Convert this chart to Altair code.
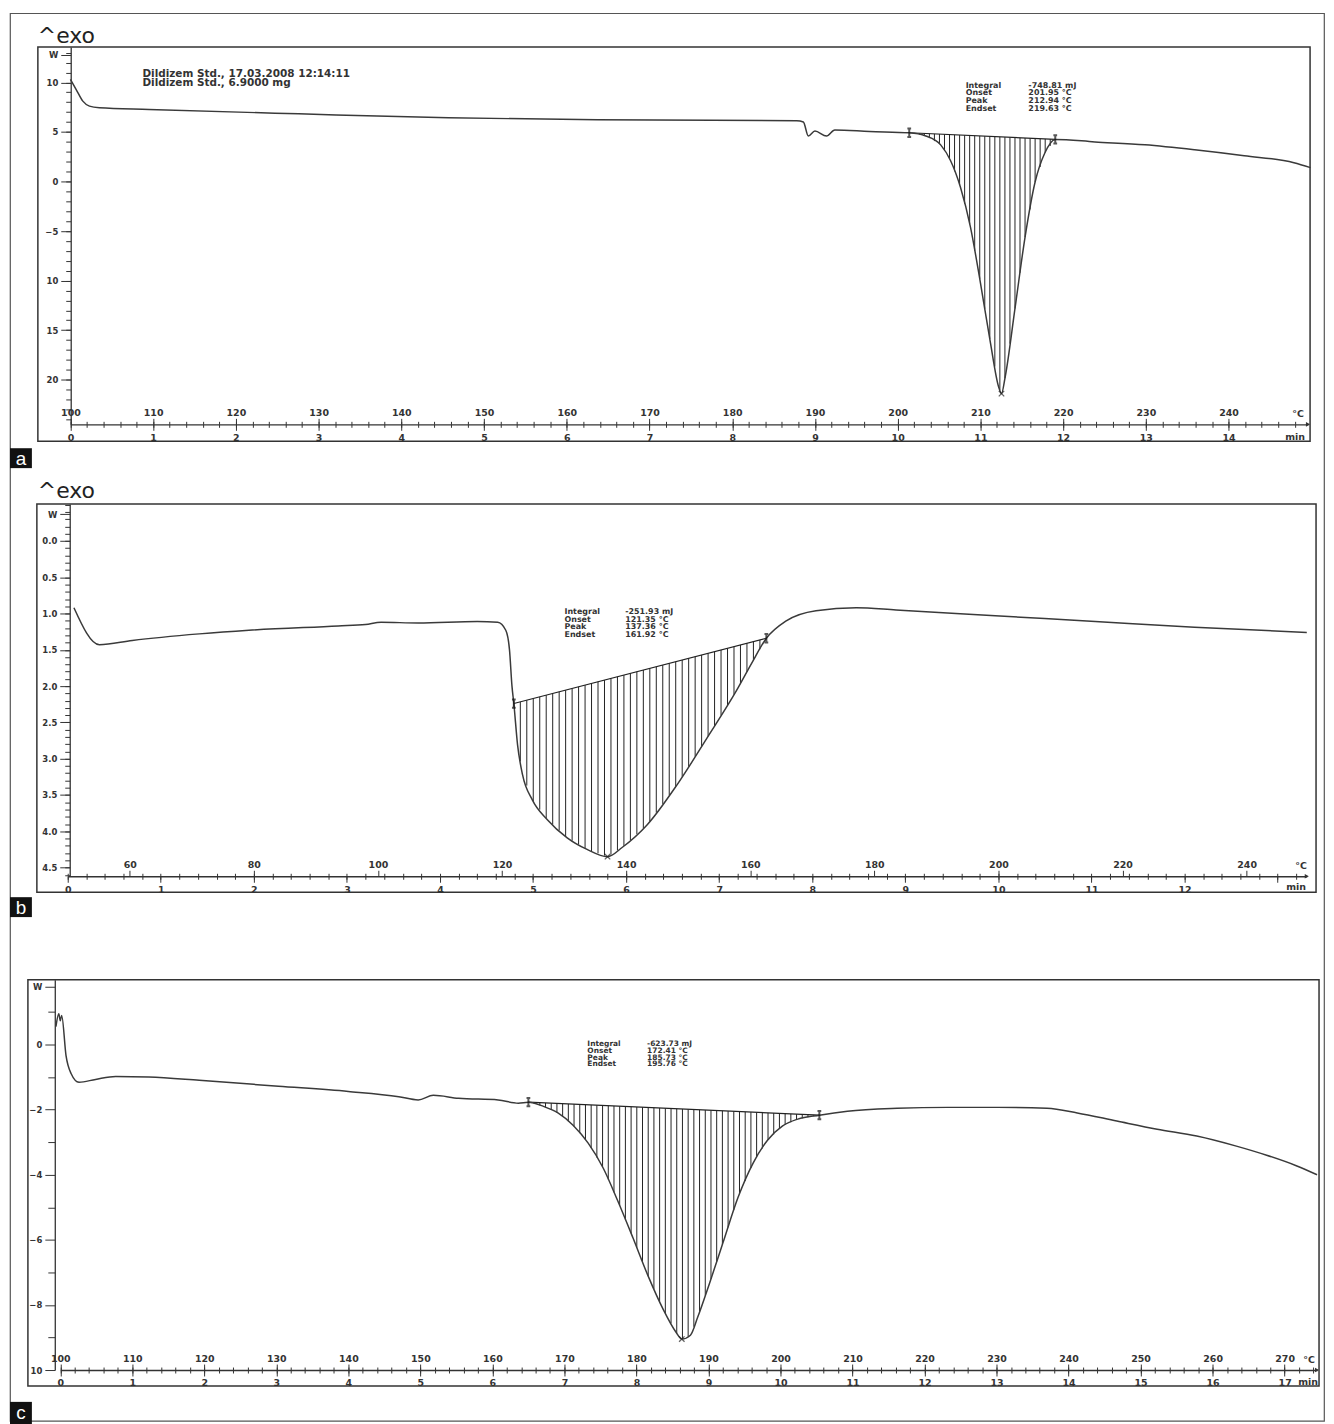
import altair as alt
import numpy as np
import pandas as pd

# ---------------- panel a : heat flow (mW) vs temperature (°C) ----------------
a_temp = [100.0, 100.7, 101.5, 102.3, 103.5, 109.5, 127.6, 145.7, 163.7, 187.8,
          188.6, 189.2, 190.0, 191.4, 192.4, 196.6, 201.4, 203.4, 205.2, 206.4,
          207.6, 208.8, 210.0, 211.2, 212.2, 212.55, 213.0, 214.2, 215.4, 216.6,
          217.8, 219.05, 223.85, 229.9, 235.9, 241.9, 247.9, 249.9]
a_flow = [10.3, 9.28, 8.11, 7.61, 7.44, 7.27, 6.83, 6.43, 6.23, 6.13,
          6.0, 4.59, 5.1, 4.59, 5.2, 5.05, 4.92, 4.6, 3.7, 2.1,
          -0.6, -4.6, -10.2, -16.2, -20.7, -21.4, -19.7, -12.7, -5.6, -0.1,
          2.9, 4.25, 4.0, 3.7, 3.2, 2.6, 1.9, 1.4]
a_onset = [201.4, 4.92]
a_endset = [219.05, 4.25]
a_peak = [212.55, -21.4]
a_temp_ticks = [100, 110, 120, 130, 140, 150, 160, 170, 180, 190, 200, 210, 220, 230, 240]
a_y_major = [10, 5, 0, -5, -10, -15, -20]
a_y_minor = list(range(-24, 14))
a_info_names = ["Integral", "Onset", "Peak", "Endset"]
a_info_vals = ["-748.81 mJ", "201.95 °C", "212.94 °C", "219.63 °C"]
a_header = ["Dildizem Std., 17.03.2008 12:14:11", "Dildizem Std., 6.9000 mg"]

# ---------------- panel b ----------------
b_temp = [51.0, 55.1, 60.4, 71.2, 79.2, 93.6, 98.0, 100.5, 106.5, 116.0,
          119.3, 120.6, 121.2, 121.6, 121.9, 122.5, 123.3, 124.9, 127.3, 130.5,
          133.7, 137.0, 139.4, 143.4, 148.2, 153.0, 157.8, 160.2, 162.6, 165.8,
          170.6, 177.1, 183.5, 199.5, 215.6, 231.6, 249.7]
b_flow = [0.92, 1.43, 1.37, 1.28, 1.23, 1.17, 1.15, 1.12, 1.13, 1.11,
          1.12, 1.23, 1.5, 2.0, 2.24, 2.81, 3.22, 3.57, 3.84, 4.09,
          4.25, 4.35, 4.22, 3.91, 3.36, 2.72, 2.06, 1.69, 1.34, 1.10,
          0.96, 0.92, 0.95, 1.03, 1.11, 1.19, 1.26]
b_onset = [121.9, 2.24]
b_endset = [162.6, 1.34]
b_peak = [137.0, 4.35]
b_temp_ticks = [60, 80, 100, 120, 140, 160, 180, 200, 220, 240]
b_y_major = [0.0, 0.5, 1.0, 1.5, 2.0, 2.5, 3.0, 3.5, 4.0, 4.5]
b_y_minor = [round(v, 1) for v in np.arange(-0.5, 4.61, 0.1)]
b_info_names = ["Integral", "Onset", "Peak", "Endset"]
b_info_vals = ["-251.93 mJ", "121.35 °C", "137.36 °C", "161.92 °C"]

# ---------------- panel c ----------------
c_temp = [99.4, 99.8, 100.0, 100.2, 100.8, 101.5, 102.6, 104.9, 107.7, 112.3,
          119.3, 130.3, 140.0, 147.0, 149.7, 151.8, 155.3, 160.8, 163.6, 165.0,
          167.1, 169.1, 171.2, 173.3, 175.4, 177.4, 179.5, 181.6, 183.7, 185.5,
          186.3, 187.5, 188.5, 190.2, 192.0, 194.1, 196.2, 198.2, 200.3, 202.4,
          205.4, 209.3, 216.2, 223.2, 230.1, 237.0, 241.2, 246.7, 252.3, 257.8,
          263.3, 267.5, 271.7, 274.5]
c_flow = [0.55, 0.95, 0.73, 0.89, -0.34, -0.89, -1.16, -1.07, -0.98, -1.0,
          -1.1, -1.28, -1.44, -1.6, -1.7, -1.56, -1.65, -1.7, -1.8, -1.77,
          -1.9, -2.1, -2.48, -3.03, -3.8, -4.8, -5.93, -7.1, -8.13, -8.84,
          -9.05, -8.93, -8.38, -7.3, -6.1, -4.7, -3.64, -2.94, -2.5, -2.29,
          -2.17, -2.05, -1.96, -1.93, -1.93, -1.96, -2.1, -2.35, -2.6, -2.81,
          -3.12, -3.4, -3.73, -4.0]
c_onset = [165.0, -1.77]
c_endset = [205.4, -2.17]
c_peak = [186.3, -9.05]
c_temp_ticks = [100, 110, 120, 130, 140, 150, 160, 170, 180, 190, 200, 210, 220,
                230, 240, 250, 260, 270]
c_y_major = [0, -2, -4, -6, -8, -10]
c_y_minor = [1, -1, -3, -5, -7, -9]
c_info_names = ["Integral", "Onset", "Peak", "Endset"]
c_info_vals = ["-623.73 mJ", "172.41 °C", "185.73 °C", "195.76 °C"]

# ---------------- layout / style ----------------
FONT = "DejaVu Sans"
INK = "#333333"
W, H = 1320, 1414
ONE = pd.DataFrame({"k": [0]})

panels = [
    dict(T=a_temp, V=a_flow, on=a_onset, en=a_endset, pk=a_peak,
         temps=a_temp_ticks, ymaj=a_y_major + [12.8], ymin=a_y_minor,
         ylab="datum.value == 12.8 ? 'W' : format(abs(datum.value) >= 10 ? abs(datum.value) : datum.value, 'd')",
         xdom=[100, 249.6], xr=[60.7, 1303.9], ydom=[-24.5, 13.57], yr=[413, 34],
         axis_y=413, yaxis_x=61, axis_val=-24.5, frame=[28, 34, 1306, 430],
         T0=100, rate=10, last_min=14, nh=28, minor_tick=5,
         names=a_info_names, vals=a_info_vals,
         info_x=(960, 1023), info_y=69, info_lh=7.6, info_size=8,
         exo_y=30, box_y=(437, 457), letter_y=448, letter="a",
         degC=(1294, 403), minlab=(1291, 426)),
    dict(T=b_temp, V=b_flow, on=b_onset, en=b_endset, pk=b_peak,
         temps=b_temp_ticks, ymaj=b_y_major + [-0.37], ymin=b_y_minor,
         ylab="datum.value == -0.37 ? 'W' : format(datum.value, '.1f')",
         xdom=[50, 249.7], xr=[58, 1302.7], ydom=[-0.51, 4.62], yr=[493, 867],
         axis_y=867, yaxis_x=60, axis_val=4.62, frame=[27, 493, 1312, 883],
         T0=50, rate=15, last_min=12, nh=38, minor_tick=5,
         names=b_info_names, vals=b_info_vals,
         info_x=(557, 618), info_y=598, info_lh=7.5, info_size=8,
         exo_y=487, box_y=(888, 908), letter_y=899, letter="b",
         degC=(1297, 857), minlab=(1292, 878)),
    dict(T=c_temp, V=c_flow, on=c_onset, en=c_endset, pk=c_peak,
         temps=c_temp_ticks, ymaj=c_y_major + [1.77], ymin=c_y_minor,
         ylab="datum.value == 1.77 ? 'W' : format(abs(datum.value) >= 10 ? abs(datum.value) : datum.value, 'd')",
         xdom=[100, 274.5], xr=[50.5, 1313.0], ydom=[-10, 1.99], yr=[1363, 971],
         axis_y=1363, yaxis_x=45, axis_val=-10, frame=[18, 971, 1315, 1379],
         T0=100, rate=10, last_min=17, nh=50, minor_tick=7,
         names=c_info_names, vals=c_info_vals,
         info_x=(580, 640), info_y=1032, info_lh=6.7, info_size=7.5,
         exo_y=None, box_y=(1395, 1420), letter_y=1406, letter="c",
         degC=(1305, 1353), minlab=(1304, 1375)),
]
panels[0]["header"] = a_header


def txt(text, x, y, size=9, align="left", baseline="middle", color=INK,
        font=FONT, weight="bold", lh=None):
    kw = dict(align=align, baseline=baseline, fontSize=size, font=font,
              fontWeight=weight, color=color)
    if lh:
        kw["lineHeight"] = lh
    return alt.Chart(ONE).mark_text(**kw).encode(
        x=alt.value(x), y=alt.value(y), text=alt.value(text))


def minute_expr(T0, rate, last):
    m = f"((datum.value-{T0})/{rate})"
    return (f"(abs({m}-round({m})) < 0.01 && {m} < {last} + 0.5) ? "
            f"format(round({m}), 'd') : ''")


layers = []
for p in panels:
    xs = alt.Scale(domain=p["xdom"], range=p["xr"], nice=False, zero=False)
    ys = alt.Scale(domain=p["ydom"], range=p["yr"], nice=False, zero=False)
    ay, yx, T0, rate = p["axis_y"], p["yaxis_x"], p["T0"], p["rate"]
    nmax = (p["xdom"][1] - T0) / rate
    minute_T = [float(T0 + rate * m) for m in np.arange(0, nmax + 1e-9, 0.2)]
    int_T = [float(T0 + rate * m) for m in range(0, int(nmax) + 1)]

    # frame of the panel
    fr = p["frame"]
    layers.append(alt.Chart(ONE).mark_rect(fill="white", fillOpacity=0, stroke=INK,
                                          strokeWidth=1.5).encode(
        x=alt.value(fr[0]), x2=alt.value(fr[2]), y=alt.value(fr[1]), y2=alt.value(fr[3])))

    # hatching between the integration baseline and the curve
    on, en = p["on"], p["en"]
    th = np.linspace(on[0], en[0], p["nh"] + 2)[1:-1]
    base = on[1] + (th - on[0]) * (en[1] - on[1]) / (en[0] - on[0])
    cv = np.interp(th, p["T"], p["V"])
    hatch = pd.DataFrame({"T": th, "b": base, "c": cv})
    layers.append(alt.Chart(hatch).mark_rule(color="#222222", strokeWidth=1).encode(
        x=alt.X("T:Q", scale=xs, axis=alt.Axis(
            orient="bottom", offset=ay - H, values=minute_T,
            labelExpr=minute_expr(T0, rate, p["last_min"]), tickSize=3, domain=True,
            labelPadding=5, labelOverlap=False, labelFlush=False, grid=False,
            title=None, labelFontSize=9.5)),
        y=alt.Y("b:Q", scale=ys, axis=alt.Axis(
            orient="left", offset=-yx, values=p["ymin"], labels=False,
            tickSize=p["minor_tick"], domain=False, grid=False, title=None)),
        y2="c:Q"))

    # integration baseline
    bl = pd.DataFrame({"T": [on[0], en[0]], "v": [on[1], en[1]]})
    layers.append(alt.Chart(bl).mark_line(color="#222222", strokeWidth=1.2).encode(
        x=alt.X("T:Q", scale=xs, axis=alt.Axis(
            orient="top", offset=-ay, values=minute_T, labels=False, tickSize=3,
            domain=False, grid=False, title=None)),
        y=alt.Y("v:Q", scale=ys, axis=None)))

    # curve
    cdf = pd.DataFrame({"T": p["T"], "v": p["V"]})
    layers.append(alt.Chart(cdf).mark_line(color="#3a3a3a", strokeWidth=1.5,
                                           interpolate="monotone").encode(
        x=alt.X("T:Q", scale=xs, axis=alt.Axis(
            orient="top", offset=-ay, values=p["temps"], format="d", tickSize=6,
            domain=False, grid=False, title=None, labelPadding=1,
            labelOverlap=False, labelFlush=False, labelFontSize=9.5)),
        y=alt.Y("v:Q", scale=ys, axis=alt.Axis(
            orient="left", offset=-yx, values=p["ymaj"], labelExpr=p["ylab"],
            tickSize=10, domain=True, grid=False, title=None, labelPadding=3,
            labelOverlap=False, labelFlush=False, labelFontSize=8.5))))

    # onset / endset limit markers
    mk = pd.DataFrame({"T": [on[0], en[0]], "v": [on[1], en[1]]})
    layers.append(alt.Chart(mk).mark_point(
        shape="M0,-1L0,1M-0.45,-1L0.45,-1M-0.45,1L0.45,1", size=70, filled=False,
        stroke="#111111", strokeWidth=2).encode(
        x=alt.X("T:Q", scale=xs, axis=alt.Axis(
            orient="bottom", offset=ay - H, values=int_T, labels=False, tickSize=6,
            domain=False, grid=False, title=None)),
        y=alt.Y("v:Q", scale=ys, axis=None)))

    # peak marker
    pk = pd.DataFrame({"T": [p["pk"][0]], "v": [p["pk"][1]]})
    layers.append(alt.Chart(pk).mark_point(
        shape="M-1,-1L1,1M-1,1L1,-1", size=30, filled=False, stroke="#222222",
        strokeWidth=1.3).encode(
        x=alt.X("T:Q", scale=xs, axis=None), y=alt.Y("v:Q", scale=ys, axis=None)))

    # arrow at the end of the time axis
    ar = pd.DataFrame({"T": [p["xdom"][1]], "v": [p["axis_val"]]})
    layers.append(alt.Chart(ar).mark_point(shape="triangle-right", size=22, filled=True,
                                           color=INK, opacity=1).encode(
        x=alt.X("T:Q", scale=xs, axis=None), y=alt.Y("v:Q", scale=ys, axis=None)))

    # texts
    layers.append(txt(p["names"], p["info_x"][0], p["info_y"], size=p["info_size"],
                      baseline="top", lh=p["info_lh"]))
    layers.append(txt(p["vals"], p["info_x"][1], p["info_y"], size=p["info_size"],
                      baseline="top", lh=p["info_lh"]))
    layers.append(txt("°C", p["degC"][0], p["degC"][1], size=9.5, align="center"))
    layers.append(txt("min", p["minlab"][0], p["minlab"][1], size=9.5, align="center"))
    if p["exo_y"] is not None:
        layers.append(txt("^exo", 28, p["exo_y"], size=22, baseline="alphabetic",
                          weight="normal", color="#222222"))
    if "header" in p:
        layers.append(txt(p["header"], 133, 56, size=10.5, baseline="top", lh=9.5))
    by = p["box_y"]
    layers.append(alt.Chart(ONE).mark_rect(color="#111111").encode(
        x=alt.value(0), x2=alt.value(22), y=alt.value(by[0]), y2=alt.value(by[1])))
    layers.append(txt(p["letter"], 11, p["letter_y"], size=19, align="center",
                      color="white", font="Liberation Sans", weight="normal"))

chart = (
    alt.layer(*layers)
    .properties(width=W, height=H,
                padding={"left": 2, "top": 2, "right": 2, "bottom": 0},
                autosize=alt.AutoSizeParams(type="none"))
    .resolve_scale(x="independent", y="independent")
    .resolve_axis(x="independent", y="independent")
    .configure_view(stroke="#555555", strokeWidth=1.2)
    .configure_axis(labelFont=FONT, labelFontWeight="bold", labelColor=INK,
                    tickColor=INK, domainColor=INK, tickWidth=1, domainWidth=1.3)
)

chart.save("out.html", embed_options={"renderer": "svg", "actions": False})
